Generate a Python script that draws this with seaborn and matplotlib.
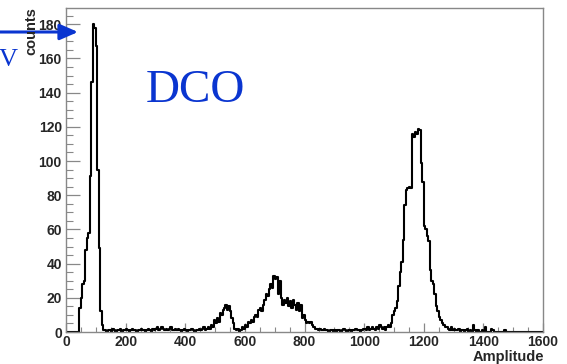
import numpy as np
import pandas as pd
import matplotlib
matplotlib.use("Agg")
import matplotlib.pyplot as plt
import seaborn as sns
from matplotlib.ticker import MultipleLocator
from matplotlib import font_manager as fm

# ---- data: counts per 5-unit amplitude bin, 0..1600 ----
bin_width = 5
counts_0_195 = [0, 0, 0, 0, 0, 0, 0, 0, 0,
                14, 20, 28, 30, 48, 55, 58, 91, 146, 180, 178, 167, 95, 49, 12, 4, 1,
                1, 0, 1, 1, 0, 2, 1, 0, 1, 1, 2, 0, 1, 1]
counts_200 = [2, 1, 0, 1, 2, 1, 1, 0, 1, 1, 2, 1, 1, 0, 1, 2, 1, 0, 2, 1]
counts_300 = [2, 3, 1, 2, 3, 2, 1, 2, 1, 2, 3, 1, 1, 2, 1, 2, 1, 0, 1, 2]
counts_400 = [1, 0, 1, 1, 2, 1, 0, 1, 1, 2, 1, 2, 3, 1, 2, 3, 2, 4, 3, 7]
counts_500 = [5, 8, 6, 11, 10, 13, 14, 16, 13, 15, 12, 8, 5, 2, 1, 2, 0, 1, 3, 2]
counts_600 = [4, 3, 6, 5, 7, 6, 9, 10, 9, 13, 14, 12, 16, 19, 22, 21, 25, 28, 26, 33]
counts_700 = [31, 32, 22, 30, 20, 16, 19, 17, 20, 15, 18, 14, 19, 16, 13, 17, 12, 16, 8, 10]
counts_800 = [7, 5, 6, 5, 6, 4, 3, 2, 2, 1, 2, 1, 1, 2, 1, 1, 0, 1, 1, 0]
counts_900 = [1, 0, 1, 1, 0, 1, 2, 1, 0, 1, 1, 0, 1, 1, 2, 1, 1, 0, 1, 2]
counts_1000 = [2, 1, 3, 1, 2, 3, 2, 1, 3, 2, 4, 3, 2, 3, 1, 3, 4, 3, 5, 10]
counts_1100 = [12, 14, 18, 27, 35, 41, 54, 74, 83, 84, 85, 84, 116, 114, 117, 116, 119, 118, 99, 88]
counts_1200 = [62, 60, 56, 53, 36, 30, 28, 22, 15, 12, 9, 7, 5, 4, 3, 3, 2, 1, 3, 1]
counts_1300 = [2, 1, 1, 2, 0, 1, 1, 0, 1, 2, 0, 1, 0, 4, 1, 0, 1, 0, 0, 1]
counts_1400 = [0, 3, 0, 0, 0, 2, 1, 0, 0, 0, 0, 0, 0, 0, 1, 0, 0, 0, 0, 0]
counts_1500 = [0] * 20

counts = np.array(counts_0_195 + counts_200 + counts_300 + counts_400 + counts_500 +
                  counts_600 + counts_700 + counts_800 + counts_900 + counts_1000 +
                  counts_1100 + counts_1200 + counts_1300 + counts_1400 + counts_1500,
                  dtype=float)
centers = np.arange(len(counts)) * bin_width + bin_width / 2
df = pd.DataFrame({"Amplitude": centers, "counts": counts})

x_ticks = [0, 200, 400, 600, 800, 1000, 1200, 1400, 1600]
y_ticks = [0, 20, 40, 60, 80, 100, 120, 140, 160, 180]

# ---- figure ----
sns.set_theme(style="white")
sans = "Liberation Sans"
try:
    f = fm.findfont(fm.FontProperties(family=sans, weight="bold"), fallback_to_default=False)
    if "bold" not in f.lower():
        sans = "Roboto"
except Exception:
    sans = "Roboto"
plt.rcParams["font.family"] = [sans, "DejaVu Sans"]
plt.rcParams["font.weight"] = "bold"

W, H = 567, 364
fig = plt.figure(figsize=(W / 100, H / 100), dpi=100)
ax = fig.add_axes([66 / W, 1 - 332 / H, (543 - 66) / W, (332 - 8) / H])

sns.histplot(data=df, x="Amplitude", weights="counts", binwidth=bin_width,
             binrange=(0, 1600), element="step", fill=False, color="black",
             linewidth=1.5, ax=ax)

ax.set_xlim(0, 1600)
ax.set_ylim(0, 189.5)
ax.set_xticks(x_ticks)
ax.set_yticks(y_ticks)
ax.xaxis.set_minor_locator(MultipleLocator(50))
ax.yaxis.set_minor_locator(MultipleLocator(5))
ax.set_xticklabels([str(v) for v in x_ticks], fontsize=10, fontweight="bold")
ax.set_yticklabels([str(v) for v in y_ticks], fontsize=10, fontweight="bold")
ax.tick_params(axis="y", which="major", direction="in", length=10, width=0.9,
               color="#888888", pad=3, left=True)
ax.tick_params(axis="y", which="minor", direction="in", length=5, width=0.8,
               color="#888888", left=True)
ax.tick_params(axis="x", which="major", direction="in", length=6.5, width=0.9,
               color="#888888", pad=2.5, bottom=True)
ax.tick_params(axis="x", which="minor", direction="in", length=3.6, width=0.8,
               color="#888888", bottom=True)
for s in ax.spines.values():
    s.set_color("#888888")
    s.set_linewidth(1.0)
ax.set_xlabel("")
ax.set_ylabel("")

fig.text(544 / W, 1 - 364 / H, "Amplitude", ha="right", va="bottom",
         fontsize=10.5, fontweight="bold")
fig.text(31 / W, 1 - 7 / H, "counts", ha="center", va="top", rotation=90,
         fontsize=10.5, fontweight="bold")

blue = "#0a35d0"
fig.text(146 / W, 1 - 102 / H, "DCO", ha="left", va="baseline", color=blue,
         fontsize=34, fontweight="normal", family="Liberation Serif")
fig.text(18 / W, 1 - 66 / H, "V", ha="right", va="baseline", color=blue,
         fontsize=19, fontweight="normal", family="Liberation Serif")
ax.annotate("", xy=(78 / W, 1 - 32 / H), xytext=(0, 1 - 32 / H),
            xycoords="figure fraction", textcoords="figure fraction",
            arrowprops=dict(arrowstyle="-|>,head_length=1.1,head_width=0.48",
                            mutation_scale=10, color=blue, lw=2.2,
                            shrinkA=0, shrinkB=0))

fig.savefig("out.png", dpi=100)
